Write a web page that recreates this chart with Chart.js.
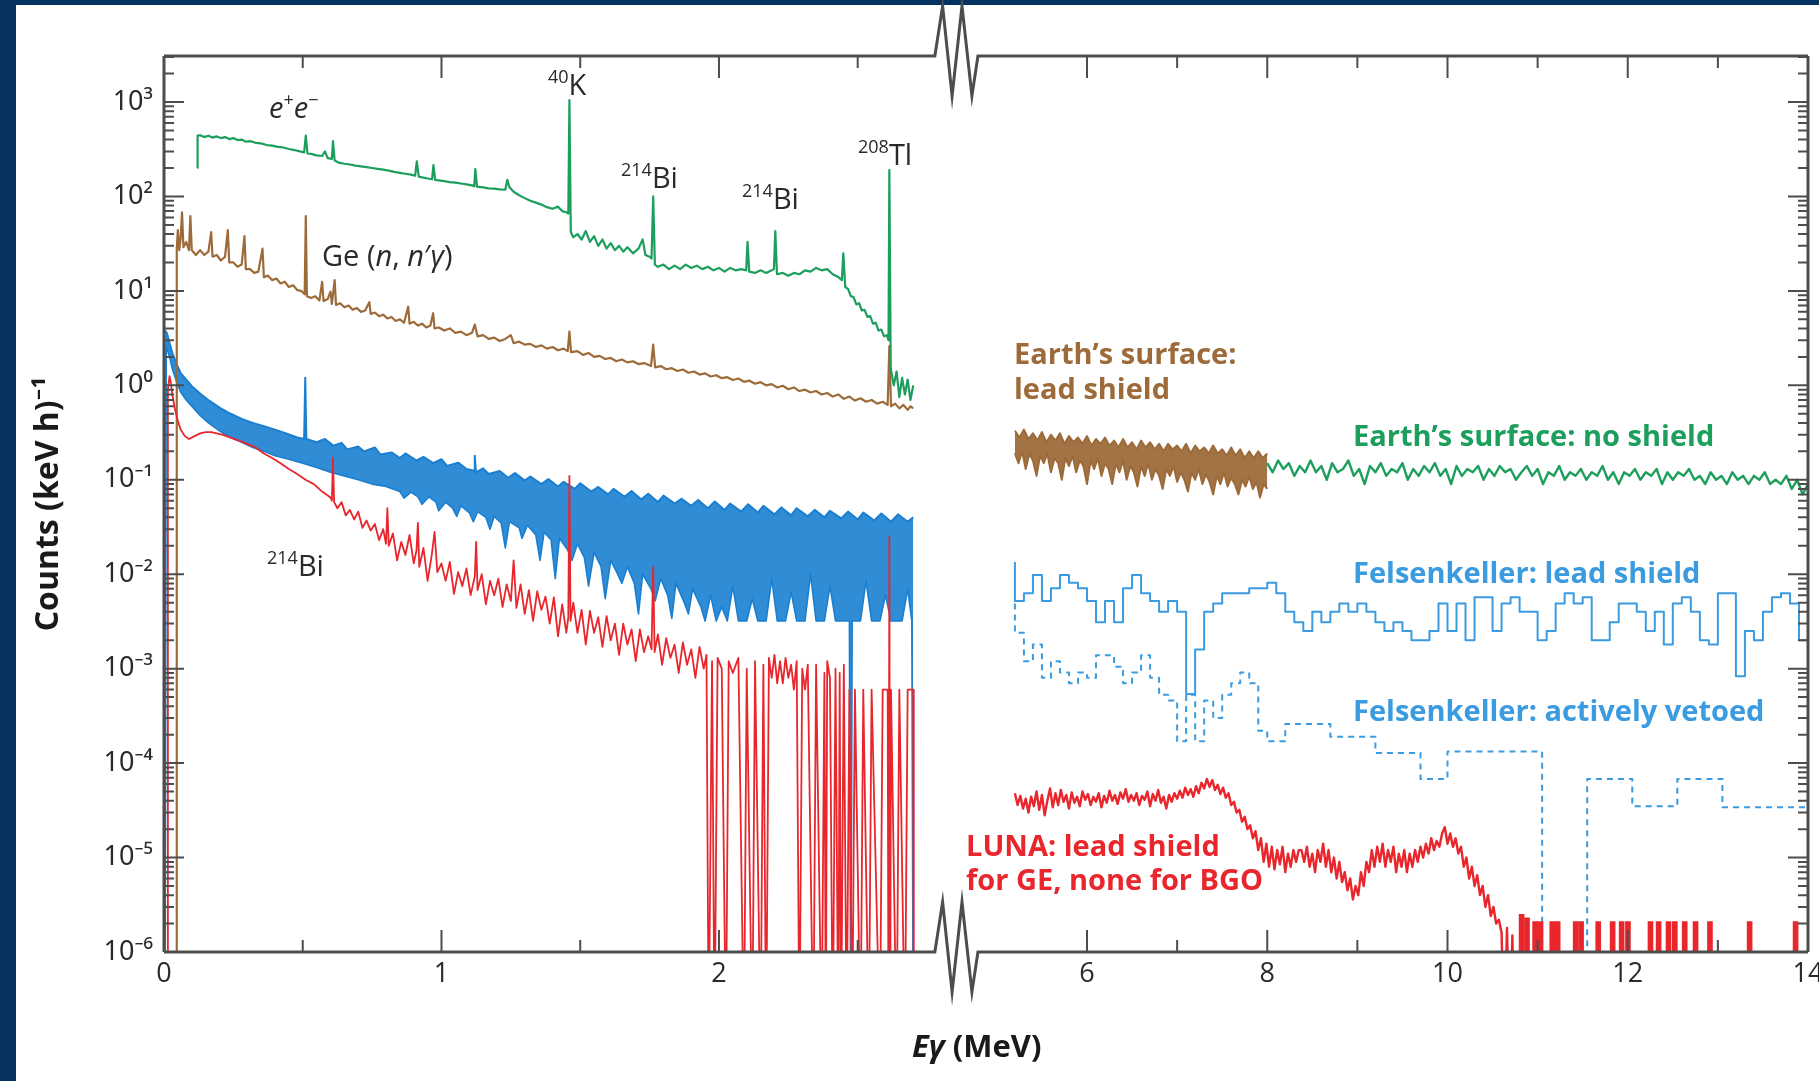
<!DOCTYPE html>
<html>
<head>
<meta charset="utf-8">
<title>Gamma background spectra</title>
<script src="https://cdn.jsdelivr.net/npm/chart.js@4.4.1/dist/chart.umd.min.js"></script>
<style>
  html, body { margin: 0; padding: 0; background: #fff; }
  canvas { display: block; }
</style>
</head>
<body>
<canvas id="spectrumChart" width="1819" height="1081"></canvas>
<script>
// ---- data: [E (MeV), counts per keV per hour] ----

// Earth's surface, no shield (Ge), low energy part
const surfaceBareLow = [
  [0.12, 200], [0.121, 440], [0.13, 445], [0.145, 425], [0.16, 440], [0.175, 420], [0.19, 432], [0.205, 415],
  [0.22, 425], [0.235, 405], [0.25, 415], [0.265, 395], [0.28, 400], [0.295, 380], [0.31, 385], [0.33, 370],
  [0.35, 365], [0.37, 350], [0.39, 345], [0.41, 335], [0.43, 330], [0.45, 318], [0.47, 310], [0.49, 300],
  [0.505, 292], [0.511, 440], [0.517, 285], [0.53, 282], [0.55, 272], [0.57, 268], [0.58, 300], [0.59, 255],
  [0.605, 250], [0.609, 385], [0.615, 240], [0.63, 228], [0.65, 222], [0.67, 218], [0.69, 212], [0.71, 208],
  [0.73, 204], [0.75, 200], [0.77, 196], [0.79, 192], [0.81, 188], [0.83, 182], [0.85, 178], [0.87, 174],
  [0.89, 170], [0.905, 166], [0.911, 235], [0.918, 162], [0.935, 158], [0.95, 155], [0.966, 152], [0.971, 215],
  [0.977, 150], [0.99, 148], [1.01, 145], [1.03, 142], [1.05, 140], [1.07, 137], [1.09, 134], [1.11, 131],
  [1.118, 128], [1.122, 195], [1.128, 127], [1.15, 125], [1.17, 122], [1.19, 121], [1.21, 119], [1.23, 118],
  [1.237, 150], [1.245, 125], [1.26, 112], [1.28, 103], [1.30, 96], [1.32, 90], [1.34, 86], [1.36, 82],
  [1.38, 77], [1.40, 74], [1.42, 78], [1.435, 70], [1.45, 68], [1.457, 66], [1.461, 1050], [1.466, 42],
  [1.475, 37], [1.49, 40], [1.505, 35], [1.52, 43], [1.535, 33], [1.55, 38], [1.565, 30], [1.58, 35],
  [1.595, 28], [1.61, 32], [1.625, 27], [1.64, 30], [1.655, 26], [1.67, 29], [1.69, 25], [1.71, 28],
  [1.725, 35], [1.735, 24], [1.75, 23], [1.757, 22], [1.763, 100], [1.769, 19], [1.78, 18], [1.80, 19],
  [1.82, 17], [1.84, 18.5], [1.86, 17], [1.88, 19], [1.90, 17.5], [1.92, 18.5], [1.94, 17], [1.96, 18],
  [1.98, 16.5], [2.0, 17.5], [2.02, 16], [2.04, 17.5], [2.06, 16.5], [2.08, 17], [2.098, 16.5], [2.103, 33],
  [2.109, 16], [2.13, 15.5], [2.15, 16.5], [2.17, 15.5], [2.19, 16.5], [2.198, 17], [2.203, 43], [2.209, 15],
  [2.23, 15.5], [2.25, 14.5], [2.27, 15.5], [2.29, 15], [2.31, 16.5], [2.33, 16], [2.35, 17.5], [2.37, 16.5],
  [2.39, 17], [2.41, 15], [2.43, 14], [2.443, 13], [2.448, 25], [2.455, 11], [2.465, 10.5], [2.475, 8.8],
  [2.485, 8.6], [2.495, 7.2], [2.505, 7.4], [2.515, 6.2], [2.525, 6.3], [2.535, 5.3], [2.545, 5.4], [2.555, 4.5],
  [2.565, 4.6], [2.575, 3.8], [2.585, 3.9], [2.595, 3.3], [2.605, 3.4], [2.611, 3.0], [2.614, 190], [2.619, 1.5],
  [2.63, 1.0], [2.64, 1.4], [2.65, 0.75], [2.66, 1.2], [2.67, 0.8], [2.68, 1.15], [2.69, 0.7], [2.70, 1.0]
];

// Earth's surface, lead shield, low energy part
const surfaceLeadLow = [
  [0.045, 1e-7], [0.046, 28], [0.05, 44], [0.055, 27], [0.06, 36], [0.065, 68], [0.07, 29], [0.08, 33],
  [0.09, 27], [0.095, 62], [0.10, 27], [0.115, 24], [0.13, 27], [0.145, 24], [0.16, 26], [0.17, 42],
  [0.175, 23], [0.19, 24], [0.205, 21], [0.22, 23], [0.23, 44], [0.235, 20], [0.25, 20], [0.265, 18],
  [0.28, 19], [0.29, 38], [0.295, 17], [0.31, 17], [0.325, 15.5], [0.34, 16], [0.355, 28], [0.36, 14],
  [0.375, 14.5], [0.39, 13], [0.405, 13.5], [0.42, 12], [0.435, 12.5], [0.45, 11], [0.465, 11.5], [0.48, 10.2],
  [0.495, 10], [0.507, 9.2], [0.511, 62], [0.515, 8.8], [0.53, 8.4], [0.545, 8.8], [0.56, 7.9], [0.57, 12.5],
  [0.575, 7.8], [0.59, 8.2], [0.60, 9.8], [0.605, 7.3], [0.615, 13], [0.62, 7.1], [0.635, 7.4], [0.65, 6.7],
  [0.665, 7], [0.68, 6.3], [0.695, 6.6], [0.71, 6], [0.725, 6.2], [0.74, 7.6], [0.745, 5.7], [0.76, 5.9],
  [0.775, 5.4], [0.79, 5.6], [0.805, 5.1], [0.82, 5.3], [0.835, 4.8], [0.85, 5], [0.865, 4.6], [0.88, 6.8],
  [0.885, 4.5], [0.90, 4.7], [0.915, 4.3], [0.93, 4.5], [0.945, 4.1], [0.96, 4.3], [0.97, 5.8], [0.975, 4],
  [0.99, 4.1], [1.01, 3.8], [1.03, 4], [1.05, 3.6], [1.07, 3.7], [1.09, 3.4], [1.11, 3.6], [1.12, 4.4],
  [1.13, 3.3], [1.15, 3.4], [1.17, 3.1], [1.19, 3.2], [1.21, 2.95], [1.23, 3.1], [1.25, 3.4], [1.26, 2.8],
  [1.28, 2.9], [1.30, 2.7], [1.32, 2.75], [1.34, 2.55], [1.36, 2.65], [1.38, 2.45], [1.40, 2.55], [1.42, 2.35],
  [1.44, 2.45], [1.455, 2.3], [1.461, 3.7], [1.467, 2.25], [1.49, 2.3], [1.51, 2.1], [1.53, 2.2], [1.55, 2],
  [1.57, 2.05], [1.59, 1.9], [1.61, 1.95], [1.63, 1.8], [1.65, 1.88], [1.67, 1.75], [1.69, 1.8], [1.71, 1.68],
  [1.73, 1.72], [1.755, 1.6], [1.763, 2.7], [1.77, 1.55], [1.79, 1.6], [1.81, 1.48], [1.83, 1.52], [1.85, 1.42],
  [1.87, 1.47], [1.89, 1.36], [1.91, 1.4], [1.93, 1.3], [1.95, 1.34], [1.97, 1.24], [1.99, 1.28], [2.01, 1.19],
  [2.03, 1.22], [2.05, 1.14], [2.07, 1.18], [2.09, 1.09], [2.11, 1.12], [2.13, 1.04], [2.15, 1.08], [2.17, 1.0],
  [2.19, 1.03], [2.21, 0.95], [2.23, 0.99], [2.25, 0.91], [2.27, 0.95], [2.29, 0.87], [2.31, 0.9], [2.33, 0.84],
  [2.35, 0.87], [2.37, 0.8], [2.39, 0.83], [2.41, 0.76], [2.43, 0.8], [2.45, 0.72], [2.47, 0.76], [2.49, 0.69],
  [2.51, 0.73], [2.53, 0.67], [2.55, 0.7], [2.57, 0.64], [2.59, 0.67], [2.608, 0.62], [2.614, 2.6], [2.62, 0.6],
  [2.635, 0.64], [2.65, 0.57], [2.665, 0.62], [2.68, 0.55], [2.69, 0.6], [2.70, 0.57]
];

// Felsenkeller, lead shield (Ge): upper and lower edge of the noisy band
const felsLeadTop = [
  [0.004, 3.8], [0.01, 3.6], [0.02, 2.8], [0.03, 2.2], [0.045, 1.7], [0.06, 1.35], [0.08, 1.15], [0.10, 0.98],
  [0.13, 0.82], [0.16, 0.70], [0.20, 0.58], [0.24, 0.50], [0.28, 0.44], [0.32, 0.40], [0.36, 0.37], [0.40, 0.34],
  [0.44, 0.31], [0.48, 0.28], [0.505, 0.27], [0.509, 1.2], [0.513, 0.27], [0.55, 0.25], [0.58, 0.27], [0.61, 0.23],
  [0.64, 0.245], [0.66, 0.21], [0.70, 0.225], [0.72, 0.20], [0.76, 0.22], [0.78, 0.185], [0.82, 0.195], [0.85, 0.17],
  [0.87, 0.19], [0.91, 0.16], [0.935, 0.175], [0.97, 0.15], [1.00, 0.165], [1.02, 0.14], [1.06, 0.152], [1.09, 0.13],
  [1.118, 0.125], [1.12, 0.18], [1.124, 0.12], [1.15, 0.132], [1.17, 0.115], [1.21, 0.124], [1.24, 0.105], [1.265, 0.118],
  [1.30, 0.098], [1.32, 0.108], [1.36, 0.09], [1.385, 0.102], [1.42, 0.085], [1.44, 0.095], [1.48, 0.08], [1.50, 0.092],
  [1.54, 0.075], [1.565, 0.084], [1.60, 0.07], [1.62, 0.08], [1.66, 0.066], [1.685, 0.076], [1.72, 0.062], [1.745, 0.071],
  [1.78, 0.058], [1.80, 0.068], [1.84, 0.056], [1.865, 0.063], [1.90, 0.053], [1.925, 0.061], [1.96, 0.05], [1.985, 0.059],
  [2.02, 0.048], [2.04, 0.056], [2.08, 0.046], [2.105, 0.055], [2.14, 0.045], [2.16, 0.053], [2.20, 0.043], [2.225, 0.051],
  [2.26, 0.042], [2.28, 0.05], [2.32, 0.041], [2.345, 0.048], [2.38, 0.04], [2.40, 0.047], [2.44, 0.039], [2.465, 0.046],
  [2.50, 0.038], [2.52, 0.045], [2.56, 0.037], [2.585, 0.044], [2.62, 0.036], [2.645, 0.043], [2.68, 0.036], [2.70, 0.04]
];
const felsLeadBottom = [
  [0.004, 1e-7], [0.008, 2.6], [0.02, 2.0], [0.03, 1.5], [0.045, 1.1], [0.06, 0.85], [0.08, 0.70], [0.10, 0.60],
  [0.13, 0.48], [0.16, 0.40], [0.20, 0.33], [0.24, 0.28], [0.28, 0.25], [0.32, 0.22], [0.36, 0.20], [0.40, 0.18],
  [0.45, 0.165], [0.50, 0.15], [0.55, 0.135], [0.60, 0.12], [0.65, 0.11], [0.70, 0.10], [0.75, 0.09], [0.80, 0.085],
  [0.85, 0.075], [0.865, 0.064], [0.89, 0.074], [0.915, 0.066], [0.93, 0.055], [0.955, 0.066], [0.98, 0.058], [0.99, 0.047],
  [1.015, 0.058], [1.04, 0.05], [1.055, 0.041], [1.07, 0.053], [1.10, 0.045], [1.115, 0.036], [1.13, 0.046], [1.16, 0.04],
  [1.175, 0.03], [1.19, 0.041], [1.215, 0.035], [1.23, 0.019], [1.245, 0.036], [1.28, 0.031], [1.29, 0.024], [1.31, 0.033],
  [1.34, 0.026], [1.355, 0.014], [1.37, 0.028], [1.395, 0.023], [1.41, 0.009], [1.425, 0.024], [1.455, 0.018], [1.47, 0.014],
  [1.49, 0.021], [1.515, 0.015], [1.53, 0.0075], [1.55, 0.017], [1.575, 0.012], [1.59, 0.0055], [1.61, 0.014], [1.635, 0.01],
  [1.65, 0.008], [1.67, 0.012], [1.695, 0.008], [1.71, 0.0038], [1.725, 0.01], [1.755, 0.007], [1.77, 0.0052], [1.79, 0.009],
  [1.815, 0.006], [1.83, 0.0034], [1.845, 0.008], [1.875, 0.005], [1.89, 0.0038], [1.905, 0.007], [1.935, 0.0045], [1.95, 0.0032],
  [1.97, 0.006], [1.99, 0.0032], [2.01, 0.0045], [2.03, 0.0032], [2.05, 0.0075], [2.07, 0.0032], [2.10, 0.0032], [2.12, 0.0055],
  [2.14, 0.0032], [2.17, 0.0032], [2.19, 0.009], [2.21, 0.0032], [2.24, 0.0032], [2.26, 0.0065], [2.28, 0.0032], [2.31, 0.0032],
  [2.33, 0.01], [2.35, 0.0032], [2.38, 0.0032], [2.40, 0.0075], [2.42, 0.0032], [2.45, 0.0032], [2.47, 0.0032], [2.475, 1e-7],
  [2.48, 0.0032], [2.51, 0.0032], [2.53, 0.0085], [2.55, 0.0032], [2.58, 0.0032], [2.60, 0.006], [2.62, 0.0032], [2.66, 0.0032],
  [2.68, 0.007], [2.695, 0.0032], [2.70, 1e-7]
];

// LUNA (lead shield for Ge), low energy part; 1e-7 = empty channel
const lunaLow = [
  [0.012, 1e-7], [0.014, 0.9], [0.02, 1.25], [0.025, 1.05], [0.03, 0.8], [0.04, 0.55], [0.05, 0.42], [0.06, 0.34],
  [0.075, 0.29], [0.09, 0.27], [0.11, 0.29], [0.13, 0.31], [0.15, 0.32], [0.17, 0.32], [0.19, 0.31], [0.21, 0.30],
  [0.24, 0.28], [0.27, 0.26], [0.30, 0.24], [0.33, 0.22], [0.36, 0.19], [0.39, 0.17], [0.42, 0.15], [0.45, 0.13],
  [0.48, 0.115], [0.51, 0.10], [0.54, 0.09], [0.57, 0.075], [0.60, 0.065], [0.605, 0.06], [0.609, 0.17], [0.613, 0.058],
  [0.625, 0.05], [0.64, 0.058], [0.655, 0.042], [0.67, 0.048], [0.685, 0.038], [0.70, 0.046], [0.715, 0.031], [0.73, 0.037],
  [0.745, 0.029], [0.76, 0.034], [0.775, 0.023], [0.79, 0.03], [0.80, 0.021], [0.805, 0.05], [0.81, 0.02], [0.825, 0.027],
  [0.84, 0.014], [0.855, 0.022], [0.87, 0.016], [0.885, 0.026], [0.90, 0.013], [0.91, 0.018], [0.915, 0.035], [0.92, 0.012],
  [0.935, 0.019], [0.95, 0.0085], [0.965, 0.016], [0.975, 0.028], [0.985, 0.0105], [1.0, 0.013], [1.015, 0.0085], [1.03, 0.0135],
  [1.045, 0.0062], [1.06, 0.0105], [1.075, 0.0075], [1.09, 0.0115], [1.105, 0.006], [1.12, 0.0095], [1.125, 0.022], [1.13, 0.0068],
  [1.145, 0.01], [1.16, 0.0048], [1.175, 0.0085], [1.19, 0.006], [1.205, 0.009], [1.22, 0.0045], [1.235, 0.0078], [1.25, 0.0052],
  [1.26, 0.014], [1.27, 0.0044], [1.285, 0.0078], [1.30, 0.0038], [1.315, 0.0068], [1.33, 0.0032], [1.345, 0.0066], [1.36, 0.0042],
  [1.375, 0.0058], [1.39, 0.003], [1.405, 0.0057], [1.42, 0.0022], [1.435, 0.0048], [1.45, 0.0024], [1.457, 0.0035], [1.461, 0.11],
  [1.465, 0.0032], [1.475, 0.005], [1.49, 0.0024], [1.505, 0.0042], [1.52, 0.0018], [1.535, 0.0041], [1.55, 0.0024], [1.565, 0.0035],
  [1.58, 0.0017], [1.595, 0.0036], [1.61, 0.002], [1.625, 0.003], [1.64, 0.0014], [1.655, 0.003], [1.67, 0.0018], [1.685, 0.0026],
  [1.70, 0.0012], [1.715, 0.0026], [1.73, 0.0015], [1.745, 0.0022], [1.757, 0.0016], [1.763, 0.012], [1.768, 0.0015], [1.78, 0.0023],
  [1.795, 0.0011], [1.81, 0.0021], [1.825, 0.0013], [1.84, 0.0018], [1.855, 0.0009], [1.87, 0.0019], [1.885, 0.0011], [1.90, 0.0016],
  [1.915, 0.0008], [1.93, 0.0017], [1.945, 0.001], [1.955, 0.0014], [1.963, 1e-7], [1.975, 0.0012], [1.984, 1e-7], [1.995, 0.0013],
  [2.01, 0.001], [2.025, 1e-7], [2.035, 0.0012], [2.05, 0.0009], [2.07, 0.0013], [2.09, 1e-7], [2.10, 0.001], [2.12, 1e-7],
  [2.13, 0.0012], [2.15, 1e-7], [2.16, 0.0011], [2.17, 1e-7], [2.18, 0.0013], [2.19, 0.0008], [2.20, 0.0014], [2.21, 0.0007],
  [2.22, 0.0012], [2.23, 0.0007], [2.24, 0.0013], [2.25, 0.0008], [2.26, 0.0011], [2.27, 0.0006], [2.28, 0.0012], [2.29, 1e-7],
  [2.30, 0.001], [2.31, 0.0006], [2.32, 0.0011], [2.34, 1e-7], [2.35, 0.0011], [2.37, 1e-7], [2.38, 0.0009], [2.385, 1e-7],
  [2.39, 0.0012], [2.40, 0.0008], [2.41, 1e-7], [2.42, 0.001], [2.43, 1e-7], [2.435, 0.0009], [2.44, 1e-7], [2.45, 0.0011],
  [2.46, 1e-7], [2.47, 0.0006], [2.48, 1e-7], [2.49, 0.0006], [2.51, 1e-7], [2.52, 0.0006], [2.54, 1e-7], [2.55, 0.0006],
  [2.58, 1e-7], [2.59, 0.0006], [2.608, 0.0006], [2.611, 1e-7], [2.614, 0.025], [2.617, 1e-7], [2.62, 0.0006], [2.64, 1e-7],
  [2.65, 0.0006], [2.67, 1e-7], [2.68, 0.0006], [2.70, 0.0006], [2.702, 1e-7]
];

// Earth's surface, lead shield, high energy part: upper and lower edge of the noisy band
const surfaceLeadHighTop = [
  [5.20, 0.33], [5.25, 0.28], [5.30, 0.34], [5.35, 0.27], [5.40, 0.31], [5.45, 0.26], [5.50, 0.32], [5.55, 0.25],
  [5.60, 0.30], [5.65, 0.26], [5.70, 0.31], [5.75, 0.24], [5.80, 0.29], [5.85, 0.25], [5.90, 0.28], [5.95, 0.24],
  [6.00, 0.29], [6.05, 0.23], [6.10, 0.27], [6.15, 0.24], [6.20, 0.28], [6.25, 0.23], [6.30, 0.26], [6.35, 0.22],
  [6.40, 0.27], [6.45, 0.22], [6.50, 0.25], [6.55, 0.21], [6.60, 0.26], [6.65, 0.22], [6.70, 0.25], [6.75, 0.21],
  [6.80, 0.24], [6.85, 0.20], [6.90, 0.24], [6.95, 0.21], [7.00, 0.23], [7.05, 0.20], [7.10, 0.24], [7.15, 0.19],
  [7.20, 0.23], [7.25, 0.20], [7.30, 0.22], [7.35, 0.19], [7.40, 0.23], [7.45, 0.19], [7.50, 0.21], [7.55, 0.18],
  [7.60, 0.22], [7.65, 0.18], [7.70, 0.21], [7.75, 0.17], [7.80, 0.20], [7.85, 0.17], [7.90, 0.20], [7.95, 0.17],
  [8.00, 0.19]
];
const surfaceLeadHighBottom = [
  [5.20, 0.19], [5.24, 0.15], [5.28, 0.2], [5.32, 0.13], [5.36, 0.19], [5.40, 0.16], [5.44, 0.11], [5.48, 0.18],
  [5.52, 0.15], [5.56, 0.19], [5.60, 0.12], [5.64, 0.17], [5.68, 0.15], [5.72, 0.1], [5.76, 0.17], [5.80, 0.14],
  [5.84, 0.18], [5.88, 0.12], [5.92, 0.16], [5.96, 0.14], [6.00, 0.09], [6.04, 0.16], [6.08, 0.13], [6.12, 0.17],
  [6.16, 0.11], [6.20, 0.15], [6.24, 0.13], [6.28, 0.09], [6.32, 0.15], [6.36, 0.12], [6.40, 0.16], [6.44, 0.1],
  [6.48, 0.14], [6.52, 0.12], [6.56, 0.085], [6.60, 0.14], [6.64, 0.11], [6.68, 0.15], [6.72, 0.1], [6.76, 0.13],
  [6.80, 0.11], [6.84, 0.08], [6.88, 0.13], [6.92, 0.11], [6.96, 0.14], [7.00, 0.095], [7.04, 0.12], [7.08, 0.1],
  [7.12, 0.075], [7.16, 0.12], [7.20, 0.1], [7.24, 0.13], [7.28, 0.09], [7.32, 0.115], [7.36, 0.095], [7.40, 0.07],
  [7.44, 0.11], [7.48, 0.09], [7.52, 0.12], [7.56, 0.085], [7.60, 0.105], [7.64, 0.09], [7.68, 0.07], [7.72, 0.1],
  [7.76, 0.085], [7.80, 0.11], [7.84, 0.08], [7.88, 0.095], [7.92, 0.065], [7.96, 0.09], [8.00, 0.08]
];

// Earth's surface, no shield, high energy part
const surfaceBareHigh = [
  [8.00, 0.15], [8.06, 0.12], [8.12, 0.16], [8.18, 0.13], [8.24, 0.15], [8.30, 0.11], [8.36, 0.14], [8.42, 0.12],
  [8.48, 0.16], [8.54, 0.12], [8.60, 0.14], [8.66, 0.10], [8.72, 0.15], [8.78, 0.12], [8.84, 0.13], [8.90, 0.16],
  [8.96, 0.11], [9.02, 0.13], [9.08, 0.09], [9.14, 0.14], [9.20, 0.12], [9.26, 0.15], [9.32, 0.11], [9.38, 0.13],
  [9.44, 0.12], [9.50, 0.15], [9.56, 0.10], [9.62, 0.13], [9.68, 0.11], [9.74, 0.14], [9.80, 0.12], [9.86, 0.15],
  [9.92, 0.11], [9.98, 0.13], [10.04, 0.09], [10.10, 0.14], [10.16, 0.11], [10.22, 0.13], [10.28, 0.12], [10.34, 0.14],
  [10.40, 0.10], [10.46, 0.13], [10.52, 0.11], [10.58, 0.14], [10.64, 0.12], [10.70, 0.13], [10.76, 0.10], [10.82, 0.12],
  [10.88, 0.14], [10.94, 0.11], [11.00, 0.13], [11.06, 0.09], [11.12, 0.12], [11.18, 0.11], [11.24, 0.14], [11.30, 0.10],
  [11.36, 0.12], [11.42, 0.11], [11.48, 0.13], [11.54, 0.10], [11.60, 0.12], [11.66, 0.11], [11.72, 0.14], [11.78, 0.10],
  [11.84, 0.12], [11.90, 0.09], [11.96, 0.12], [12.02, 0.11], [12.08, 0.13], [12.14, 0.10], [12.20, 0.12], [12.26, 0.11],
  [12.32, 0.13], [12.38, 0.09], [12.44, 0.12], [12.50, 0.10], [12.56, 0.12], [12.62, 0.11], [12.68, 0.13], [12.74, 0.10],
  [12.80, 0.11], [12.86, 0.09], [12.92, 0.12], [12.98, 0.10], [13.04, 0.11], [13.10, 0.09], [13.16, 0.12], [13.22, 0.10],
  [13.28, 0.11], [13.34, 0.09], [13.40, 0.11], [13.46, 0.10], [13.52, 0.12], [13.58, 0.09], [13.64, 0.10], [13.70, 0.09],
  [13.76, 0.11], [13.82, 0.08], [13.88, 0.10], [13.94, 0.07], [14.00, 0.09]
];

// Felsenkeller, lead shield: histogram (left bin edge, counts)
const felsLeadHist = [
  [5.2, 0.0135], [5.2, 0.0052], [5.3, 0.0063], [5.4, 0.0098], [5.5, 0.0052], [5.6, 0.0071], [5.7, 0.0098], [5.8, 0.0081],
  [5.9, 0.0071], [6.0, 0.0052], [6.1, 0.0031], [6.2, 0.0052], [6.3, 0.0031], [6.4, 0.0071], [6.5, 0.0098], [6.6, 0.0063],
  [6.7, 0.0052], [6.8, 0.004], [6.9, 0.0052], [7.0, 0.004], [7.1, 0.00054], [7.2, 0.0016], [7.3, 0.004], [7.4, 0.0049],
  [7.5, 0.0063], [7.6, 0.0063], [7.7, 0.0063], [7.8, 0.0071], [7.9, 0.0071], [8.0, 0.0081], [8.1, 0.0063], [8.2, 0.004],
  [8.3, 0.0031], [8.4, 0.0025], [8.5, 0.004], [8.6, 0.0031], [8.7, 0.004], [8.8, 0.0049], [8.9, 0.004], [9.0, 0.0049],
  [9.1, 0.004], [9.2, 0.0031], [9.3, 0.0025], [9.4, 0.0031], [9.5, 0.0025], [9.6, 0.002], [9.7, 0.002], [9.8, 0.0025],
  [9.9, 0.0049], [10.0, 0.0025], [10.1, 0.0049], [10.2, 0.002], [10.3, 0.0057], [10.4, 0.0057], [10.5, 0.0025], [10.6, 0.0049],
  [10.7, 0.0057], [10.8, 0.004], [10.9, 0.004], [11.0, 0.002], [11.1, 0.0025], [11.2, 0.0049], [11.3, 0.0063], [11.4, 0.0049],
  [11.5, 0.0057], [11.6, 0.002], [11.7, 0.002], [11.8, 0.0031], [11.9, 0.0049], [12.0, 0.0049], [12.1, 0.004], [12.2, 0.0025],
  [12.3, 0.004], [12.4, 0.0018], [12.5, 0.0049], [12.6, 0.0057], [12.7, 0.004], [12.8, 0.002], [12.9, 0.0018], [13.0, 0.0063],
  [13.1, 0.0063], [13.2, 0.00083], [13.3, 0.0025], [13.4, 0.002], [13.5, 0.004], [13.6, 0.0057], [13.7, 0.0063], [13.8, 0.0049],
  [13.9, 0.002], [14.0, 0.002]
];

// Felsenkeller, actively vetoed: histogram (left bin edge, counts)
const felsVetoHist = [
  [5.2, 0.0049], [5.2, 0.0024], [5.3, 0.0012], [5.4, 0.0018], [5.5, 0.0008], [5.6, 0.0012], [5.7, 0.00091], [5.8, 0.0007],
  [5.9, 0.00091], [6.0, 0.0008], [6.1, 0.00139], [6.2, 0.00139], [6.3, 0.00105], [6.4, 0.0007], [6.5, 0.00091], [6.6, 0.00139],
  [6.7, 0.0008], [6.8, 0.00053], [6.9, 0.00046], [7.0, 0.00017], [7.1, 0.00053], [7.2, 0.00017], [7.3, 0.00046], [7.4, 0.0003],
  [7.5, 0.00053], [7.6, 0.0007], [7.7, 0.00091], [7.8, 0.0007], [7.9, 0.00022], [8.0, 0.00017], [8.2, 0.00026], [8.7, 0.00019],
  [9.2, 0.000128], [9.7, 0.000068], [10.0, 0.000133], [10.5, 0.000133], [11.05, 1e-7], [11.55, 0.000068], [12.05, 0.000035],
  [12.55, 0.000068], [13.05, 0.000034], [14.0, 0.000034]
];

// LUNA, high energy part (BGO, no shield)
const lunaHigh = [
  [5.20, 4.8e-5], [5.23, 3.6e-5], [5.26, 4.5e-5], [5.29, 3.3e-5], [5.32, 4.2e-5], [5.35, 3.0e-5], [5.38, 4.4e-5], [5.41, 3.5e-5],
  [5.44, 5.0e-5], [5.47, 3.2e-5], [5.50, 4.6e-5], [5.53, 2.8e-5], [5.56, 4.0e-5], [5.59, 5.4e-5], [5.62, 3.4e-5], [5.65, 4.8e-5],
  [5.68, 3.6e-5], [5.71, 5.2e-5], [5.74, 3.9e-5], [5.77, 4.6e-5], [5.80, 3.3e-5], [5.83, 4.9e-5], [5.86, 3.8e-5], [5.89, 4.4e-5],
  [5.92, 3.5e-5], [5.95, 5.0e-5], [5.98, 4.1e-5], [6.01, 4.7e-5], [6.04, 3.6e-5], [6.07, 4.4e-5], [6.10, 3.9e-5], [6.13, 4.8e-5],
  [6.16, 3.4e-5], [6.19, 4.5e-5], [6.22, 3.8e-5], [6.25, 5.1e-5], [6.28, 4.0e-5], [6.31, 4.6e-5], [6.34, 3.7e-5], [6.37, 4.9e-5],
  [6.40, 4.2e-5], [6.43, 5.3e-5], [6.46, 3.9e-5], [6.49, 4.6e-5], [6.52, 4.0e-5], [6.55, 4.8e-5], [6.58, 3.6e-5], [6.61, 4.5e-5],
  [6.64, 4.1e-5], [6.67, 5.0e-5], [6.70, 3.5e-5], [6.73, 4.7e-5], [6.76, 4.0e-5], [6.79, 5.2e-5], [6.82, 3.8e-5], [6.85, 4.4e-5],
  [6.88, 3.3e-5], [6.91, 4.6e-5], [6.94, 3.9e-5], [6.97, 4.8e-5], [7.00, 4.2e-5], [7.03, 5.1e-5], [7.06, 4.3e-5], [7.09, 5.5e-5],
  [7.12, 4.6e-5], [7.15, 5.3e-5], [7.18, 4.4e-5], [7.21, 5.7e-5], [7.24, 4.8e-5], [7.27, 6.2e-5], [7.30, 5.4e-5], [7.33, 6.8e-5],
  [7.36, 5.6e-5], [7.39, 6.6e-5], [7.42, 5.2e-5], [7.45, 5.9e-5], [7.48, 4.7e-5], [7.51, 5.5e-5], [7.54, 4.3e-5], [7.57, 4.8e-5],
  [7.60, 3.6e-5], [7.63, 3.9e-5], [7.66, 3.0e-5], [7.69, 3.2e-5], [7.72, 2.4e-5], [7.75, 2.7e-5], [7.78, 2.0e-5], [7.81, 2.2e-5],
  [7.84, 1.6e-5], [7.87, 1.9e-5], [7.90, 1.2e-5], [7.93, 1.6e-5], [7.96, 9e-6], [7.99, 1.4e-5], [8.02, 8e-6], [8.05, 1.3e-5],
  [8.08, 7.5e-6], [8.11, 1.2e-5], [8.14, 8.5e-6], [8.17, 1.3e-5], [8.20, 7e-6], [8.23, 1.1e-5], [8.26, 8e-6], [8.29, 1.2e-5],
  [8.32, 9e-6], [8.35, 1.2e-5], [8.38, 1.2e-5], [8.41, 9e-6], [8.44, 1.3e-5], [8.47, 8e-6], [8.50, 1.1e-5], [8.53, 7e-6],
  [8.56, 1.2e-5], [8.59, 9e-6], [8.62, 1.4e-5], [8.65, 8e-6], [8.68, 1.2e-5], [8.71, 7e-6], [8.74, 1.0e-5], [8.77, 6e-6],
  [8.80, 9e-6], [8.83, 5.5e-6], [8.86, 7e-6], [8.89, 4.5e-6], [8.92, 6e-6], [8.95, 3.6e-6], [8.98, 5e-6], [9.01, 4e-6],
  [9.04, 7e-6], [9.07, 5e-6], [9.10, 9e-6], [9.13, 7e-6], [9.16, 1.2e-5], [9.19, 8e-6], [9.22, 1.3e-5], [9.25, 9e-6],
  [9.28, 1.4e-5], [9.31, 8e-6], [9.34, 1.2e-5], [9.37, 9e-6], [9.40, 1.3e-5], [9.43, 7e-6], [9.46, 1.1e-5], [9.49, 8e-6],
  [9.52, 1.2e-5], [9.55, 7e-6], [9.58, 1.1e-5], [9.61, 8e-6], [9.64, 1.2e-5], [9.67, 9e-6], [9.70, 1.3e-5], [9.73, 1.0e-5],
  [9.76, 1.4e-5], [9.79, 1.1e-5], [9.82, 1.6e-5], [9.85, 1.2e-5], [9.88, 1.5e-5], [9.91, 1.3e-5], [9.94, 1.8e-5], [9.97, 2.1e-5],
  [10.00, 1.4e-5], [10.03, 1.8e-5], [10.06, 1.3e-5], [10.09, 1.6e-5], [10.12, 1.1e-5], [10.15, 1.3e-5], [10.18, 8e-6], [10.21, 1.0e-5],
  [10.24, 6e-6], [10.27, 8e-6], [10.30, 5e-6], [10.33, 6.5e-6], [10.36, 4e-6], [10.39, 5e-6], [10.42, 3e-6], [10.45, 4e-6],
  [10.48, 2.4e-6], [10.51, 3e-6], [10.54, 2e-6], [10.57, 2.2e-6], [10.60, 1.6e-6], [10.63, 1e-7], [10.66, 1.8e-6], [10.69, 1e-7],
  [10.72, 1.5e-6], [10.74, 1e-7]
];

// LUNA, isolated single counts above 10.8 MeV
const lunaSingles = [
  [10.85, 2.5e-6], [10.91, 2.3e-6], [11.0, 2.1e-6], [11.06, 2.1e-6], [11.19, 2.1e-6], [11.25, 2.1e-6], [11.45, 2.1e-6],
  [11.51, 2.1e-6], [11.70, 2.1e-6], [11.86, 2.1e-6], [11.96, 2.1e-6], [12.03, 2.1e-6], [12.28, 2.1e-6], [12.37, 2.1e-6],
  [12.48, 2.1e-6], [12.55, 2.1e-6], [12.66, 2.1e-6], [12.78, 2.1e-6], [12.94, 2.1e-6], [13.38, 2.1e-6], [13.89, 2.1e-6]
];

// axis break: left panel ends, right panel starts (MeV)
const breakLow = 2.778;
const breakHigh = 4.79;

const colors = {
  green: '#1c9f5c',
  brown: '#9d6b3a',
  blue: '#1a7fd0',
  lightBlue: '#3a9be0',
  red: '#e8262c',
  navy: '#06325f',
  axis: '#4d4d4d',
  text: '#2a2a2a'
};

const FONT = "'Open Sans', 'Noto Sans', sans-serif";
Chart.defaults.font.family = FONT;

const supDigits = {'-': '\u207B', '0': '\u2070', '1': '\u00B9', '2': '\u00B2', '3': '\u00B3',
  '4': '\u2074', '5': '\u2075', '6': '\u2076', '7': '\u2077', '8': '\u2078', '9': '\u2079'};
function sup(n) {
  return String(n).split('').map(c => supDigits[c]).join('');
}

// draws several text runs next to each other (for superscripts and italics)
function drawRuns(ctx, x, y, runs) {
  let cx = x;
  runs.forEach(([t, font, dy]) => {
    ctx.font = font;
    ctx.fillText(t, cx, y + (dy || 0));
    cx += ctx.measureText(t).width;
  });
}

const decorPlugin = {
  id: 'decor',
  beforeDraw(chart) {
    const ctx = chart.ctx;
    ctx.save();
    ctx.fillStyle = '#ffffff';
    ctx.fillRect(0, 0, chart.width, chart.height);
    ctx.fillStyle = colors.navy;
    ctx.fillRect(0, 0, 16, chart.height);
    ctx.fillRect(0, 0, chart.width, 5);
    ctx.restore();
  },
  afterDraw(chart) {
    const {ctx, chartArea: a, scales} = chart;
    const xL = scales.xL, xR = scales.xR, y = scales.y;
    const leftEnd = xL.getPixelForValue(breakLow);
    const rightStart = xR.getPixelForValue(breakHigh);
    const w = rightStart - leftEnd;

    ctx.save();
    ctx.strokeStyle = colors.axis;
    ctx.lineWidth = 3;
    ctx.lineJoin = 'miter';

    // top and bottom axes with the break zigzag
    [a.top, a.bottom].forEach(yb => {
      ctx.beginPath();
      ctx.moveTo(a.left, yb);
      ctx.lineTo(leftEnd, yb);
      ctx.lineTo(leftEnd + w * 0.18, yb - 50);
      ctx.lineTo(leftEnd + w * 0.40, yb + 40);
      ctx.lineTo(leftEnd + w * 0.63, yb - 50);
      ctx.lineTo(leftEnd + w * 0.86, yb + 40);
      ctx.lineTo(rightStart, yb);
      ctx.lineTo(a.right, yb);
      ctx.stroke();
    });
    ctx.beginPath();
    ctx.moveTo(a.left, a.top);
    ctx.lineTo(a.left, a.bottom);
    ctx.moveTo(a.right, a.top);
    ctx.lineTo(a.right, a.bottom);
    ctx.stroke();

    // tick marks, pointing into the plot
    ctx.lineWidth = 2;
    ctx.beginPath();
    y.ticks.forEach(t => {
      const e = Math.log10(t.value);
      const m = t.value / Math.pow(10, Math.floor(e + 1e-9));
      if (Math.abs(m - Math.round(m)) > 1e-6 || t.value > y.max) return;
      const len = Math.abs(m - 1) < 1e-6 ? 20 : 10;
      const py = y.getPixelForValue(t.value);
      ctx.moveTo(a.left, py); ctx.lineTo(a.left + len, py);
      ctx.moveTo(a.right, py); ctx.lineTo(a.right - len, py);
    });
    const xTicks = (scale, skip) => {
      scale.ticks.forEach(t => {
        if (skip(t.value)) return;
        const len = Number.isInteger(t.value) && (scale.id === 'xL' || t.value % 2 === 0) ? 22 : 12;
        const px = scale.getPixelForValue(t.value);
        ctx.moveTo(px, a.bottom); ctx.lineTo(px, a.bottom - len);
        ctx.moveTo(px, a.top); ctx.lineTo(px, a.top + len);
      });
    };
    xTicks(xL, v => v <= 0);
    xTicks(xR, v => v < 5.5 || v >= 14);
    ctx.stroke();

    // peak labels
    ctx.fillStyle = colors.text;
    ctx.textBaseline = 'middle';
    ctx.textAlign = 'left';
    const big = '29px ' + FONT, small = '18px ' + FONT;
    drawRuns(ctx, 269, 110, [['e', 'italic ' + big], ['+', small, -9], ['e', 'italic ' + big], ['\u2212', small, -9]]);
    drawRuns(ctx, 548, 87, [['40', small, -9], ['K', big]]);
    drawRuns(ctx, 621, 180, [['214', small, -9], ['Bi', big]]);
    drawRuns(ctx, 742, 201, [['214', small, -9], ['Bi', big]]);
    drawRuns(ctx, 858, 157, [['208', small, -9], ['Tl', big]]);
    drawRuns(ctx, 267, 568, [['214', small, -9], ['Bi', big]]);
    drawRuns(ctx, 322, 258, [['Ge (', big], ['n', 'italic ' + big], [', ', big], ['n', 'italic ' + big],
      ['\u2032', big], ['\u03B3', 'italic ' + big], [')', big]]);

    // series labels
    const lab = 'bold 29px ' + FONT;
    const series = [
      ["Earth\u2019s surface:", 1014, 356, 223, colors.brown],
      ['lead shield', 1014, 391, 158, colors.brown],
      ["Earth\u2019s surface: no shield", 1353, 438, 362, colors.green],
      ['Felsenkeller: lead shield', 1353, 575, 350, colors.lightBlue],
      ['Felsenkeller: actively vetoed', 1353, 713, 415, colors.lightBlue],
      ['LUNA: lead shield', 966, 848, 258, colors.red],
      ['for GE, none for BGO', 966, 882, 304, colors.red]
    ];
    ctx.font = lab;
    series.forEach(([t, x, yy, maxW, c]) => {
      ctx.fillStyle = c;
      ctx.fillText(t, x, yy, maxW);
    });

    // x axis title
    ctx.fillStyle = '#1a1a1a';
    drawRuns(ctx, 912, 1048, [['E\u03B3', 'italic bold 31px ' + FONT], [' (MeV)', 'bold 31px ' + FONT]]);
    ctx.restore();
  }
};

const asPoints = arr => arr.map(([x, y]) => ({x, y}));
const lineStyle = (color, width) => ({
  borderColor: color,
  backgroundColor: color,
  borderWidth: width,
  pointRadius: 0,
  tension: 0,
  borderJoinStyle: 'round',
  fill: false
});

const ctx = document.getElementById('spectrumChart').getContext('2d');
const spectrumChart = new Chart(ctx, {
  type: 'line',
  data: {
    datasets: [
      Object.assign({type: 'bar', label: 'LUNA singles', data: asPoints(lunaSingles), xAxisID: 'xR',
        backgroundColor: colors.red, barThickness: 5, borderWidth: 0}),
      Object.assign({label: 'LUNA low', data: asPoints(lunaLow), xAxisID: 'xL'}, lineStyle(colors.red, 1.8)),
      Object.assign({label: 'LUNA high', data: asPoints(lunaHigh), xAxisID: 'xR'}, lineStyle(colors.red, 2.4)),
      Object.assign({label: 'Surface no shield low', data: asPoints(surfaceBareLow), xAxisID: 'xL'}, lineStyle(colors.green, 2.2)),
      Object.assign({label: 'Surface lead low', data: asPoints(surfaceLeadLow), xAxisID: 'xL'}, lineStyle(colors.brown, 2.2)),
      Object.assign({label: 'Surface no shield high', data: asPoints(surfaceBareHigh), xAxisID: 'xR'}, lineStyle(colors.green, 2.4)),
      Object.assign({label: 'Surface lead high (top)', data: asPoints(surfaceLeadHighTop), xAxisID: 'xR'},
        lineStyle(colors.brown, 2)),
      Object.assign(lineStyle(colors.brown, 2), {label: 'Surface lead high (bottom)', data: asPoints(surfaceLeadHighBottom),
        xAxisID: 'xR', fill: '-1', backgroundColor: 'rgba(157,107,58,0.95)'}),
      Object.assign({label: 'Felsenkeller lead', data: asPoints(felsLeadHist), xAxisID: 'xR', stepped: true},
        lineStyle(colors.lightBlue, 2)),
      Object.assign({label: 'Felsenkeller vetoed', data: asPoints(felsVetoHist), xAxisID: 'xR', stepped: true,
        borderDash: [6, 5]}, lineStyle(colors.lightBlue, 2)),
      Object.assign({label: 'Felsenkeller lead low (top)', data: asPoints(felsLeadTop), xAxisID: 'xL'},
        lineStyle(colors.blue, 2)),
      Object.assign(lineStyle(colors.blue, 1.6), {label: 'Felsenkeller lead low (bottom)', data: asPoints(felsLeadBottom),
        xAxisID: 'xL', fill: '-1', backgroundColor: 'rgba(26,127,208,0.9)'})
    ]
  },
  options: {
    responsive: false,
    animation: false,
    devicePixelRatio: 1,
    events: [],
    layout: {padding: {left: 0, top: 56, right: 11, bottom: 0}},
    plugins: {
      legend: {display: false},
      tooltip: {enabled: false}
    },
    scales: {
      xL: {
        type: 'linear', position: 'bottom', stack: 'energy', stackWeight: 792.5,
        min: 0, max: 2.856, offset: false,
        grid: {display: false, drawTicks: false},
        border: {display: false},
        ticks: {
          stepSize: 0.5, includeBounds: false, autoSkip: false, maxRotation: 0, padding: 6,
          color: colors.text, font: {size: 27},
          callback: v => Number.isInteger(v) ? String(v) : ''
        },
        afterFit: s => { s.height = 129; s.paddingLeft = 0; s.paddingRight = 0; }
      },
      xR: {
        type: 'linear', position: 'bottom', stack: 'energy', stackWeight: 851.5,
        min: 4.552, max: 14, offset: false,
        grid: {display: false, drawTicks: false},
        border: {display: false},
        ticks: {
          stepSize: 1, includeBounds: false, autoSkip: false, maxRotation: 0, padding: 6,
          color: colors.text, font: {size: 27},
          callback: v => (v >= 6 && v % 2 === 0) ? String(v) : ''
        },
        afterFit: s => { s.height = 129; s.paddingLeft = 0; s.paddingRight = 0; }
      },
      y: {
        type: 'logarithmic', position: 'left',
        min: 1e-6, max: 3070,
        grid: {display: false, drawTicks: false},
        border: {display: false},
        ticks: {
          autoSkip: false, padding: 11, color: colors.text,
          font: {size: 27, family: "'Noto Sans', 'DejaVu Sans', sans-serif"},
          callback: v => {
            const e = Math.log10(v);
            return Math.abs(e - Math.round(e)) < 1e-9 ? '10' + sup(Math.round(e)) : '';
          }
        },
        title: {
          display: true,
          text: 'Counts (keV h)\u207B\u00B9',
          color: '#1a1a1a',
          font: {size: 32, weight: 'bold'},
          padding: {top: 30, bottom: 0}
        },
        afterFit: s => { s.width = 164; }
      }
    }
  },
  plugins: [decorPlugin]
});
</script>
</body>
</html>
